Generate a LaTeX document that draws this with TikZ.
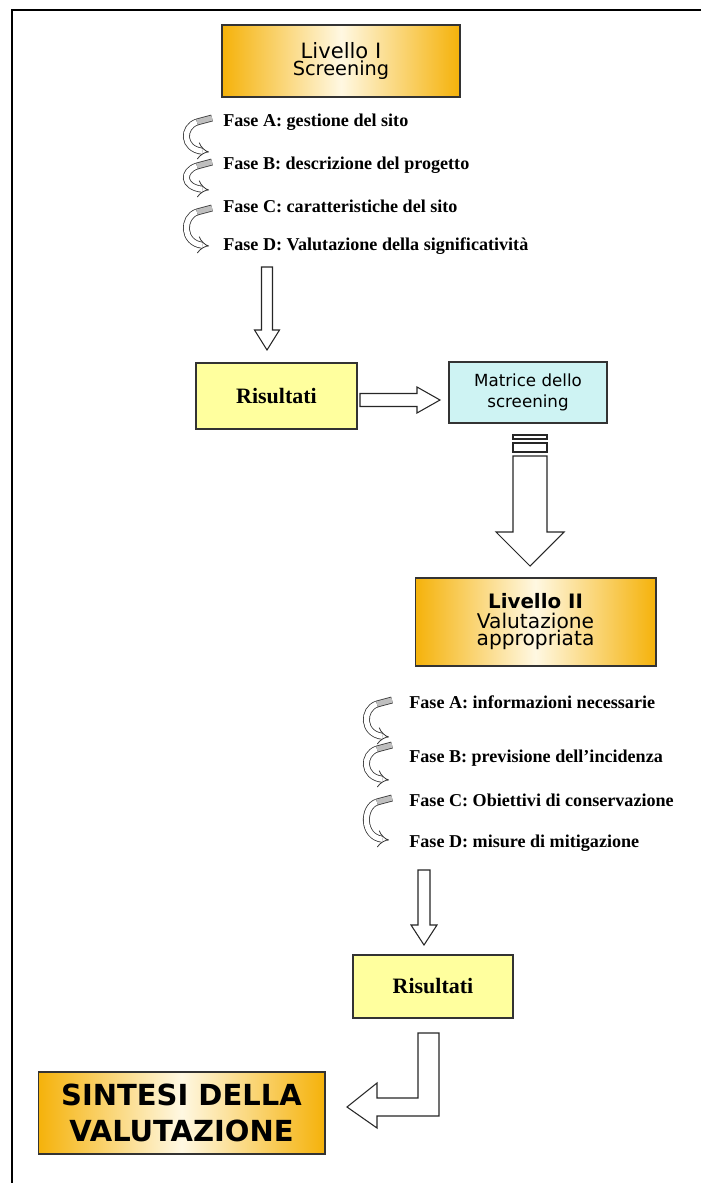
\documentclass[tikz,border=0pt]{standalone}
\usepackage{fontspec}
\setmainfont{Liberation Serif}
\setsansfont{DejaVu Sans}
\usepackage{xcolor}
\usetikzlibrary{calc, arrows.meta, positioning}
\definecolor{goldedge}{RGB}{245,178,10}
\definecolor{goldmid}{RGB}{255,248,226}
\definecolor{risyellow}{RGB}{255,255,158}
\definecolor{matcyan}{RGB}{206,243,243}
\tikzset{
  livbox/.style={draw=black!80, line width=0.6pt, left color=goldedge, right color=goldedge, middle color=goldmid, align=center, font=\sffamily, inner sep=0pt},
  risbox/.style={draw=black!80, line width=0.6pt, fill=risyellow, font=\bfseries\fontsize{12.5}{14}\selectfont, inner sep=0pt},
  fase/.style={anchor=west, inner sep=0pt, font=\bfseries\fontsize{10.3}{12}\selectfont},
  blockarrow/.style={draw=black!85, line width=0.6pt, fill=white},
  curlline/.style={double distance=3pt, line width=0.45pt, draw=black!80}
}
% hollow arrow pointing down: x, y top, y head, y tip, shaft half, head half
\newcommand\blockdown[6]{
    \draw[blockarrow] (#1-#5,#2) -- (#1+#5,#2) -- (#1+#5,#3) -- (#1+#6,#3) -- (#1,#4) -- (#1-#6,#3) -- (#1-#5,#3) -- cycle;
}
% curled ribbon arrow: x right, y top, y bottom
\newcommand\phasecurl[3]{
    \draw[curlline, double=white, -{Implies}] (#1-15,#2+4) .. controls (#1-30,#2+9) and (#1-30,#3-3) .. (#1-3,#3);
    \draw[curlline, double=gray!50] (#1,#2) -- (#1-15,#2+4);
}
\begin{document}
\begin{tikzpicture}[x=0.02cm, y=-0.02cm]
    \useasboundingbox (0,0) rectangle (701,1183);
    % Frame
    \draw[line width=1.4pt] (701,10) -- (12,10) -- (12,1183);

    % Livello I
    \node[livbox, minimum width=4.76cm, minimum height=1.44cm] (lev1) at (341,61)
        {{\fontsize{12}{12}\selectfont Livello I}\\[-2pt]{\fontsize{11}{11}\selectfont Screening}};
    \node[fase] (fa1) at (223,122) {Fase A: gestione del sito};
    \node[fase] (fb1) at (223,165) {Fase B: descrizione del progetto};
    \node[fase] (fc1) at (223,206) {Fase C: caratteristiche del sito};
    \node[fase] (fd1) at (223,246) {Fase D: Valutazione della significatività};
    \phasecurl{212}{118}{152}
    \phasecurl{212}{162}{190}
    \phasecurl{212}{208}{246}

    % Risultati and matrix
    \blockdown{267}{267}{330}{350}{5.5}{12.5}
    \node[risbox, minimum width=3.22cm, minimum height=1.32cm] (ris1) at (276.5,396) {Risultati};
    \node[draw=black!80, line width=0.6pt, fill=matcyan, align=center, inner sep=0pt,
          font=\sffamily\fontsize{9.5}{12}\selectfont, minimum width=3.16cm, minimum height=1.22cm] (mat) at (528,392.5)
        {Matrice dello\\screening};
    \draw[blockarrow] (360,393.5) -- (417,393.5) -- (417,387) -- (440,400) -- (417,413) -- (417,406.5) -- (360,406.5) -- cycle;

    % Big arrow to Livello II
    \draw[blockarrow] (513,435) rectangle (547,439);
    \draw[blockarrow] (513,443) rectangle (547,452);
    \blockdown{530}{456}{532}{566}{17}{34}

    % Livello II
    \node[livbox, minimum width=4.82cm, minimum height=1.76cm] (lev2) at (535.5,622)
        {{\bfseries\fontsize{11.3}{12}\selectfont Livello II}\\[-1pt]{\fontsize{11.5}{12}\selectfont Valutazione}\\[-2pt]{\fontsize{11.5}{12}\selectfont appropriata}};
    \node[fase] (fa2) at (409,702) {Fase A: informazioni necessarie};
    \node[fase] (fb2) at (409,758) {Fase B: previsione dell’incidenza};
    \node[fase] (fc2) at (409,800) {Fase C: Obiettivi di conservazione};
    \node[fase] (fd2) at (409,843) {Fase D: misure di mitigazione};
    \phasecurl{392}{700}{737}
    \phasecurl{392}{745}{780}
    \phasecurl{392}{798}{840}

    % Risultati and synthesis
    \blockdown{424}{870}{925}{945}{6}{13}
    \node[risbox, minimum width=3.2cm, minimum height=1.26cm] (ris2) at (433,986.5) {Risultati};
    \draw[blockarrow] (418,1033) -- (439,1033) -- (439,1116) -- (377,1116) -- (377,1128) -- (347,1107) -- (377,1083) -- (377,1098) -- (418,1098) -- cycle;
    \node[livbox, font=\sffamily\bfseries\fontsize{16.5}{20}\selectfont, minimum width=5.74cm, minimum height=1.64cm] (sint) at (181.5,1113)
        {SINTESI DELLA\\VALUTAZIONE};
\end{tikzpicture}
\end{document}
